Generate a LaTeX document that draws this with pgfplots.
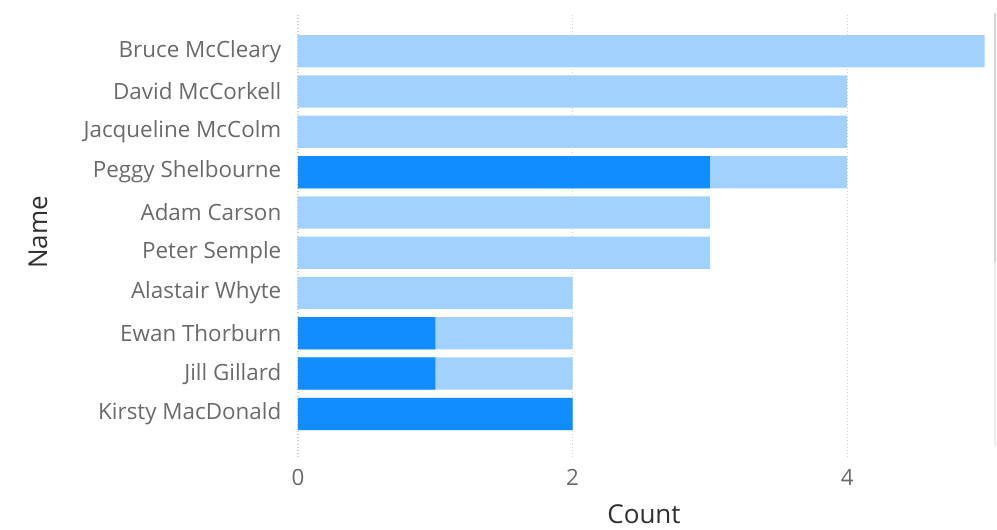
\documentclass[border=0pt]{standalone}
\usepackage{pgfplots}
\pgfplotsset{compat=1.18}
\usepackage{fontspec}
\setmainfont{Open Sans}
\definecolor{lightbar}{HTML}{A0D1FF}
\definecolor{darkbar}{HTML}{118DFF}
\definecolor{ticklab}{HTML}{6A6A6A}
\definecolor{axlab}{HTML}{303030}
\definecolor{gridc}{HTML}{D0D0D0}
\begin{document}
\begin{tikzpicture}
\path[use as bounding box] (0,0) rectangle (747.75pt,396.75pt);
% scrollbar at right edge
\fill[black!7] (745.2pt,61.5pt) rectangle (747pt,387pt);
\fill[black!17] (745.2pt,200pt) rectangle (747pt,387pt);
\begin{axis}[
  at={(223.5pt,54pt)}, anchor=south west,
  scale only axis, width=519pt, height=333pt,
  xmin=0, xmax=5.04, ymin=-1.07, ymax=9.95,
  axis lines=none,
  xtick={0,2,4}, ytick={0,...,9},
  yticklabels={Kirsty MacDonald,Jill Gillard,Ewan Thorburn,Alastair Whyte,Peter Semple,Adam Carson,Peggy Shelbourne,Jacqueline McColm,David McCorkell,Bruce McCleary},
  major tick length=0pt,
  xmajorgrids, grid style={gridc, dotted, line width=1pt},
  tick label style={font=\fontsize{16.8pt}{19pt}\selectfont, text=ticklab},
  /pgf/number format/assume math mode=true,
  xticklabel style={yshift=-6pt},
  yticklabel style={xshift=-9pt},
  hide x axis=false, hide y axis=false,
  axis x line*=bottom, axis y line*=left,
  x axis line style={draw=none}, y axis line style={draw=none},
  xlabel={Count}, ylabel={Name},
  label style={font=\fontsize{19.5pt}{22pt}\selectfont, text=axlab},
  xlabel style={at={(rel axis cs:0.5,0)}, anchor=center, yshift=-43pt},
  ylabel style={at={(rel axis cs:0,0.5)}, anchor=center, yshift=195pt, xshift=2pt},
  bar width=0.8, bar shift=0pt,
]
\addplot[xbar, fill=lightbar, draw=none] coordinates {
  (2,0) (2,1) (2,2) (2,3) (3,4) (3,5) (4,6) (4,7) (4,8) (5,9)};
\addplot[xbar, fill=darkbar, draw=none] coordinates {
  (2,0) (1,1) (1,2) (0,3) (0,4) (0,5) (3,6) (0,7) (0,8) (0,9)};
\end{axis}
\end{tikzpicture}
\end{document}
